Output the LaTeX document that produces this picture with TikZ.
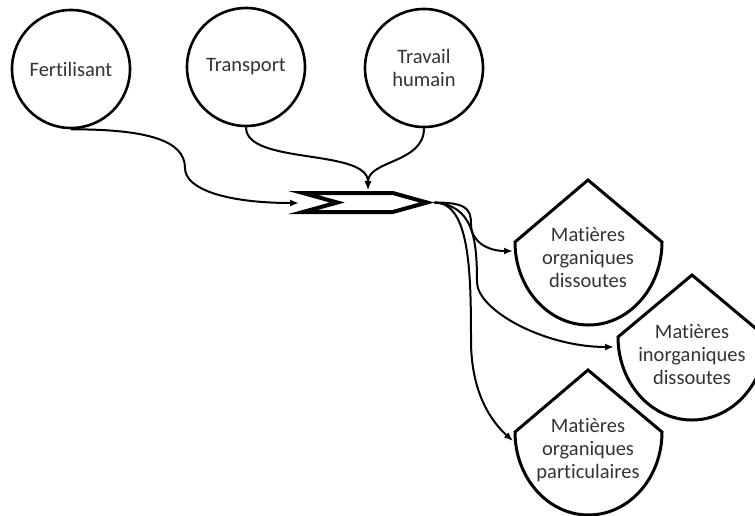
\documentclass[tikz,border=0pt]{standalone}
\usepackage{fontspec}
\setmainfont{Carlito}[Ligatures=NoCommon]
\usetikzlibrary{arrows, arrows.meta, shapes.symbols}

\begin{document}
\begin{tikzpicture}[x=1pt, y=-1pt,
  source/.style={draw, circle, line width=2.6pt, minimum size=118pt, inner sep=0pt, align=center, text=black!80, font=\fontsize{20.5}{23}\selectfont},
  chevron/.style={draw, signal, signal to=east, signal from=west, signal pointer angle=31, line width=4pt, fill=white, minimum width=124pt, minimum height=19pt, inner sep=0pt},
  store/.style={line width=3pt, line join=miter},
  storetext/.style={align=center, text=black!80, font=\fontsize{20.5}{23}\selectfont},
  flow/.style={line width=2pt, -{Latex[length=9pt, width=7pt]}}]
\useasboundingbox (0,0) rectangle (755,515);

\node[source] (fert) at (71,69) {Fertilisant};
\node[source] (trans) at (246,67) {Transport};
\node[source] (trav) at (424,68) {Travail\\humain};

\draw[store] (515,242) -- (588,180) -- (662,242) arc[start angle=0, end angle=180, x radius=73.5, y radius=83] -- cycle;
\draw[store] (618,337) -- (692,275) -- (766,337) arc[start angle=0, end angle=180, x radius=74, y radius=83] -- cycle;
\draw[store] (515,432) -- (588,370) -- (662,432) arc[start angle=0, end angle=180, x radius=73.5, y radius=83] -- cycle;
\node[storetext] (orgdis) at (588,258) {Matières\\organiques\\dissoutes};
\node[storetext] (inorg) at (692,355) {Matières\\inorganiques\\dissoutes};
\node[storetext] (part) at (588,450) {Matières\\organiques\\particulaires};
\coordinate (orgdis-in) at (513,251);
\coordinate (inorg-in) at (614,347);
\coordinate (part-in) at (513,441);

\node[chevron] (chev) at (365,202.5) {};
\coordinate (chev-in) at (299,203);
\coordinate (chev-top) at (368,190);

\draw[flow] (fert.south) .. controls +(75,0) and +(0,-28) .. (185,168) .. controls +(0,22) and +(-70,0) .. (chev-in);
\draw[flow] (trans.south) .. controls +(0,38) and +(0,-42) .. (chev-top);
\draw[flow] (trav.south) .. controls +(0,35) and +(0,-30) .. (chev-top);

\draw[flow] (chev.east) .. controls +(32,0) and +(0,-15) .. (471,224) .. controls +(0,18) and +(-25,0) .. (orgdis-in);
\draw[flow] (chev.east) .. controls +(38,3) and +(0,-45) .. (477,282) .. controls +(0,28) and +(-70,0) .. (inorg-in);
\draw[flow] (chev.east) .. controls +(35,0) and +(0,-70) .. (471,340) .. controls +(0,55) and +(-20,-18) .. (part-in);
\end{tikzpicture}
\end{document}
